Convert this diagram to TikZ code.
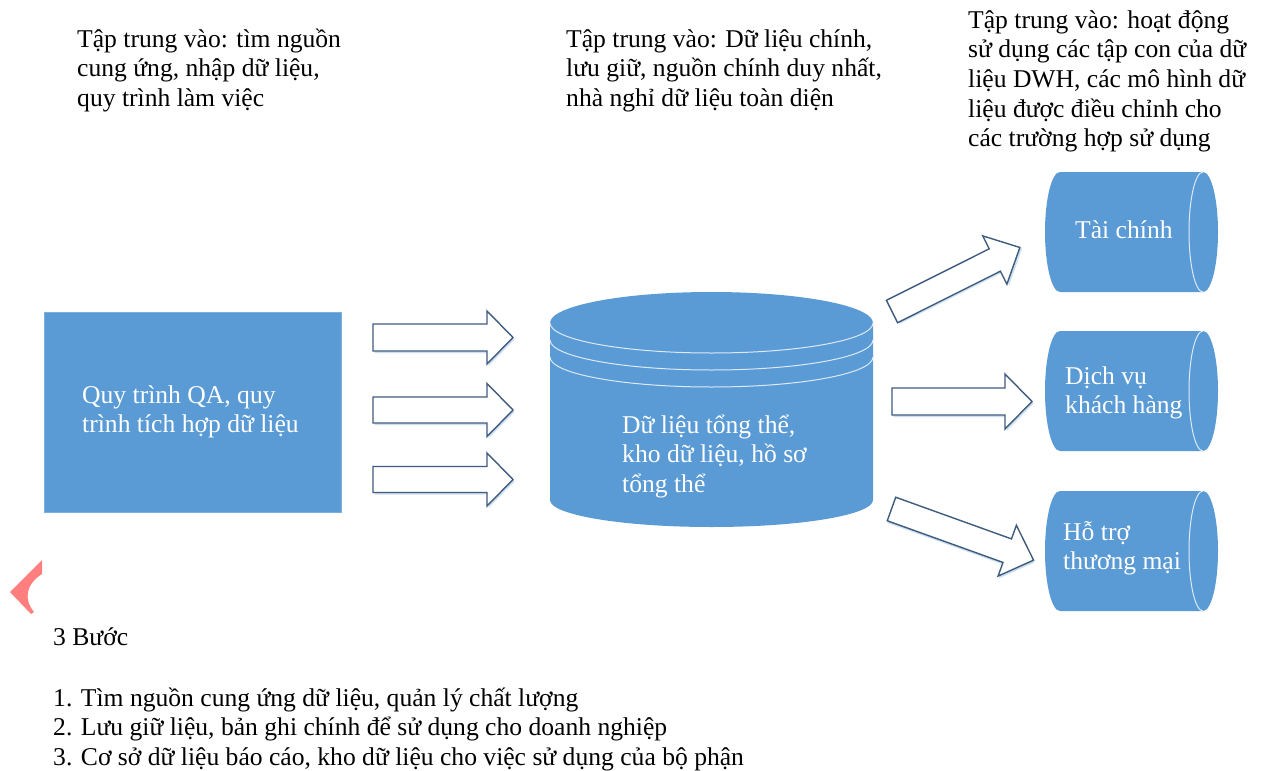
\documentclass[tikz,border=0pt]{standalone}
\usepackage{fontspec}
\setmainfont{Liberation Serif}
\definecolor{blu}{HTML}{5B9BD5}
\definecolor{arrowline}{HTML}{3E5C7E}
\definecolor{shadowc}{HTML}{CFDFEF}
\definecolor{linec}{HTML}{DCE9F6}
\definecolor{markred}{HTML}{FF7F7F}
\newcommand{\txtlines}[1]{\parbox[t]{1000pt}{\raggedright #1}}
\newcommand{\blockarr}[7]{% tail x, tail y, angle, length, head length, shaft half, head half
  \begin{scope}[shift={(#1,#2)},rotate=#3]
    \fill[arrowshadow] (1.5,{-#6+2}) -- ({#4-#5+1.5},{-#6+2}) -- ({#4-#5+1.5},{-#7+2}) -- ({#4+1.5},2) -- ({#4-#5+1.5},{#7+2}) -- ({#4-#5+1.5},{#6+2}) -- (1.5,{#6+2}) -- cycle;
    \draw[blockarrow] (0,-#6) -- ({#4-#5},-#6) -- ({#4-#5},-#7) -- (#4,0) -- ({#4-#5},#7) -- ({#4-#5},#6) -- (0,#6) -- cycle;
  \end{scope}}
\newcommand{\hcyl}[1]{% centre y of a side-lying cylinder
  \fill[blu] (1060,{#1-60}) -- (1203,{#1-60}) arc[start angle=-90,end angle=90,x radius=15,y radius=60] -- (1060,{#1+60}) arc[start angle=90,end angle=270,x radius=15,y radius=60] -- cycle;
  \draw[rim] (1203,{#1-60}) arc[start angle=-90,end angle=-270,x radius=14,y radius=60];}
\begin{document}
\begin{tikzpicture}[x=1pt,y=-1pt,
  lbl/.style={anchor=base west, inner sep=0pt, font=\fontsize{25.6}{29.7}\selectfont},
  wlbl/.style={lbl, text=white},
  blockarrow/.style={draw=arrowline, fill=white, line width=1.4pt, line join=miter},
  arrowshadow/.style={fill=shadowc, draw=none},
  rim/.style={draw=linec, line width=1pt}]
\fill[white] (0,0) rectangle (1267,771);
\useasboundingbox (0,0) rectangle (1267,771);

% top texts
\node[lbl] (focus1) at (77,47) {\txtlines{Tập trung vào: tìm nguồn\\cung ứng, nhập dữ liệu,\\quy trình làm việc}};
\node[lbl] (focus2) at (566,47) {\txtlines{Tập trung vào: Dữ liệu chính,\\lưu giữ, nguồn chính duy nhất,\\nhà nghỉ dữ liệu toàn diện}};
\node[lbl] (focus3) at (968,28) {\txtlines{Tập trung vào: hoạt động\\sử dụng các tập con của dữ\\liệu DWH, các mô hình dữ\\liệu được điều chỉnh cho\\các trường hợp sử dụng}};

% left box
\node[fill=blu, draw=blu!80!white, line width=0.8pt, anchor=north west, inner sep=0pt, minimum width=297pt, minimum height=200pt] (qa) at (44,312) {};
\node[wlbl] (qatext) at (82,403) {\txtlines{Quy trình QA, quy\\trình tích hợp dữ liệu}};

% left arrows
\blockarr{373}{337.5}{0}{140}{26}{13.5}{26.5}
\blockarr{373}{410}{0}{140}{26}{13}{26.5}
\blockarr{373}{479.5}{0}{140}{26}{13}{26.5}

% big cylinder
\fill[blu] (550,323) -- (550,500) arc[start angle=180,end angle=0,x radius=161.5,y radius=27] -- (873,323) arc[start angle=0,end angle=-180,x radius=161.5,y radius=31] -- cycle;
\draw[rim] (550,323) arc[start angle=180,end angle=0,x radius=161.5,y radius=30];
\draw[rim] (550,340) arc[start angle=180,end angle=0,x radius=161.5,y radius=30];
\draw[rim] (550,357) arc[start angle=180,end angle=0,x radius=161.5,y radius=30];
\node[wlbl] (dwh) at (622,433) {\txtlines{Dữ liệu tổng thể,\\kho dữ liệu, hồ sơ\\tổng thể}};

% right arrows
\blockarr{892}{311.5}{26.6}{143}{28}{12.5}{27}
\blockarr{892}{401.5}{0}{140}{27}{13.5}{27.5}
\blockarr{891.5}{509}{-19.8}{151}{28}{12.5}{27}

% right cylinders
\hcyl{232}
\hcyl{391}
\hcyl{551}
\node[wlbl] (fin) at (1075,238) {\txtlines{Tài chính}};
\node[wlbl] (cs) at (1065,384) {\txtlines{Dịch vụ\\khách hàng}};
\node[wlbl] (trade) at (1063,540) {\txtlines{Hỗ trợ\\thương mại}};

% red mark
\fill[markred] (42,560) -- (10,592) -- (31,614) -- (34,612) .. controls (24,600) and (25,585) .. (42,574) -- cycle;

% bottom texts
\node[lbl] (steps) at (53,645) {3 Bước};
\node[lbl] (steplist) at (53,706) {\txtlines{1. Tìm nguồn cung ứng dữ liệu, quản lý chất lượng\\2. Lưu giữ liệu, bản ghi chính để sử dụng cho doanh nghiệp\\3. Cơ sở dữ liệu báo cáo, kho dữ liệu cho việc sử dụng của bộ phận}};
\end{tikzpicture}
\end{document}
